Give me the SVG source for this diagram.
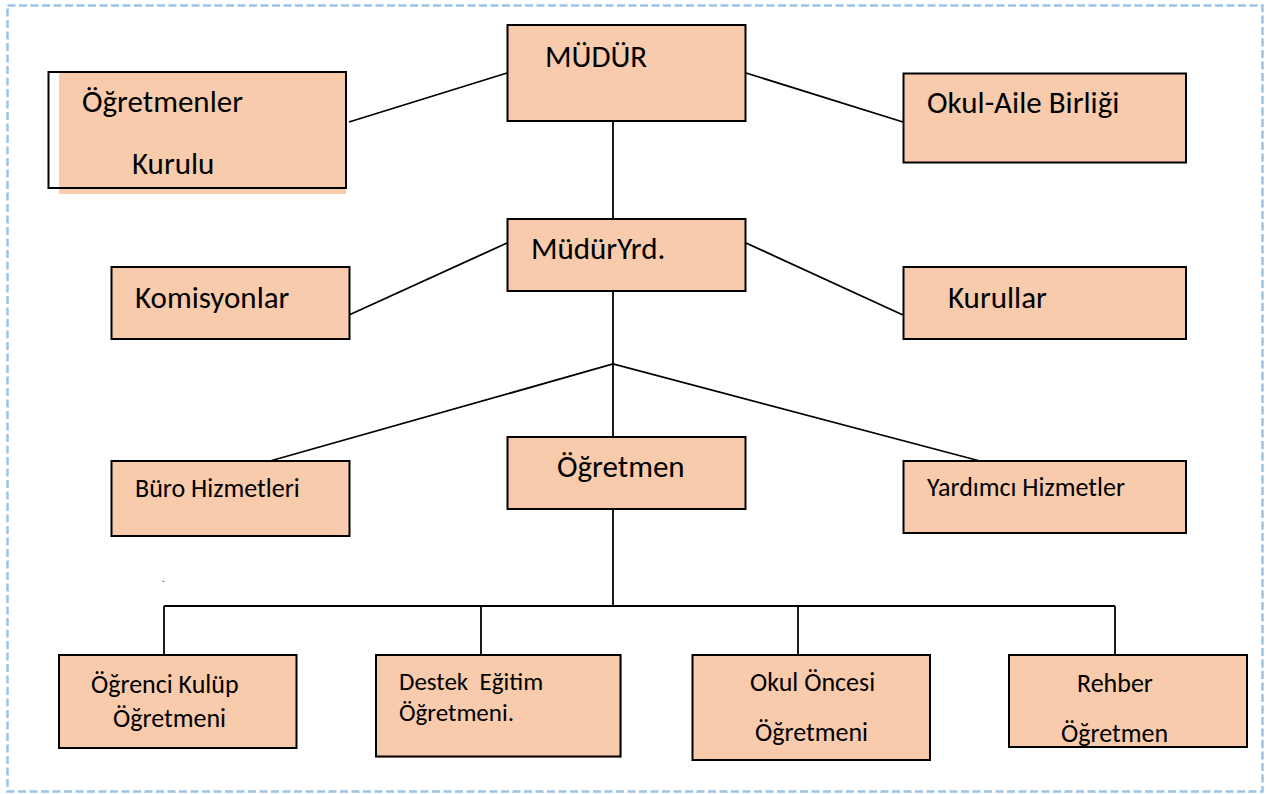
<svg xmlns="http://www.w3.org/2000/svg" width="1266" height="794" viewBox="0 0 1266 794">
<style>
.box{fill:#f7cbac;stroke:#000;stroke-width:2}
.fillonly{fill:#f7cbac;stroke:none}
.outline{fill:none;stroke:#000;stroke-width:2}
.conn line,.conn polyline{stroke:#000;stroke-width:1.8;fill:none}
text{font-family:Carlito,Lato,"Liberation Sans",sans-serif;fill:#000}
.lg{font-size:31px}
.sm{font-size:26px}
</style>
<rect x="0" y="0" width="1266" height="794" fill="#fff"/>
<rect x="7.5" y="5.5" width="1255" height="786" fill="none" stroke="#9dc3e6" stroke-width="2.5" stroke-dasharray="8,3.5"/>
<g class="conn" id="connectors">
<line x1="349" y1="122" x2="507" y2="73"/>
<line x1="746" y1="73" x2="903" y2="122"/>
<line x1="613" y1="121" x2="613" y2="219"/>
<line x1="349" y1="315" x2="507" y2="243"/>
<line x1="746" y1="243" x2="903" y2="315"/>
<line x1="613" y1="291" x2="613" y2="437"/>
<polyline points="270,461 613,364 980,461"/>
<line x1="613" y1="509" x2="613" y2="606"/>
<line x1="164" y1="606" x2="1115" y2="606"/>
<line x1="164" y1="606" x2="164" y2="655"/>
<line x1="481" y1="606" x2="481" y2="655"/>
<line x1="798" y1="606" x2="798" y2="655"/>
<line x1="1115" y1="606" x2="1115" y2="655"/>
</g>
<g id="mudur">
<rect class="box" x="507.5" y="25" width="238" height="96"/>
<text class="lg" x="545" y="67">MÜDÜR</text>
</g>
<g id="ogretmenler-kurulu">
<rect class="fillonly" x="59" y="72" width="287" height="122"/>
<rect class="outline" x="48.5" y="72" width="297.5" height="116"/>
<text class="lg" x="82" y="112">Öğretmenler</text>
<text class="lg" x="132" y="174">Kurulu</text>
</g>
<g id="okul-aile">
<rect class="box" x="903.5" y="73.5" width="282.5" height="89"/>
<text class="lg" x="927" y="113">Okul-Aile Birliği</text>
</g>
<g id="mudur-yrd">
<rect class="box" x="507.5" y="219" width="238" height="72"/>
<text class="lg" x="531" y="259">MüdürYrd.</text>
</g>
<g id="komisyonlar">
<rect class="box" x="111.5" y="267" width="238" height="72"/>
<text class="lg" x="135" y="308">Komisyonlar</text>
</g>
<g id="kurullar">
<rect class="box" x="903.5" y="267" width="282.5" height="72"/>
<text class="lg" x="948" y="308">Kurullar</text>
</g>
<g id="buro">
<rect class="box" x="111.5" y="461" width="238" height="75"/>
<text class="sm" x="135" y="497">Büro Hizmetleri</text>
</g>
<text x="162" y="582" style="font-size:10px">.</text>
<g id="ogretmen">
<rect class="box" x="507.5" y="437" width="238" height="72"/>
<text class="lg" x="557" y="477">Öğretmen</text>
</g>
<g id="yardimci">
<rect class="box" x="903.5" y="461" width="282.5" height="72"/>
<text class="sm" x="927" y="496">Yardımcı Hizmetler</text>
</g>
<g id="ogrenci-kulup">
<rect class="box" x="59" y="655" width="237.5" height="93"/>
<text class="sm" x="91" y="693">Öğrenci Kulüp</text>
<text class="sm" x="113" y="727">Öğretmeni</text>
</g>
<g id="destek">
<rect class="fillonly" x="376" y="655" width="246" height="103"/>
<rect class="outline" x="376" y="655" width="244.5" height="101.5"/>
<text class="sm" x="399" y="690" style="white-space:pre;font-size:25px">Destek  Eğitim</text>
<text class="sm" x="399" y="721" style="font-size:25px">Öğretmeni.</text>
</g>
<g id="okul-oncesi">
<rect class="box" x="692.5" y="655" width="237.5" height="105"/>
<text class="sm" x="750" y="691">Okul Öncesi</text>
<text class="sm" x="755" y="741">Öğretmeni</text>
</g>
<g id="rehber">
<rect class="box" x="1009" y="655" width="238" height="92"/>
<text class="sm" x="1077" y="692">Rehber</text>
<text class="sm" x="1061" y="742">Öğretmen</text>
</g>
</svg>
